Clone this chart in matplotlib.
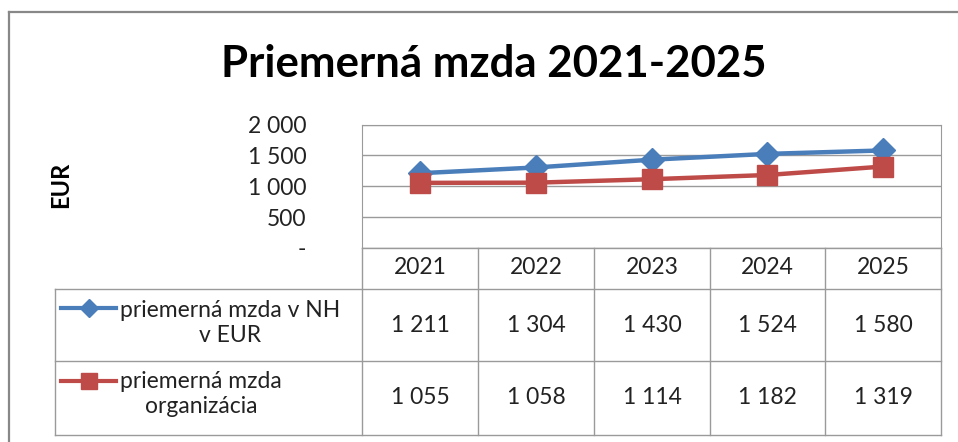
import matplotlib.pyplot as plt
from matplotlib.lines import Line2D

plt.rcParams['font.family'] = ['Lato', 'DejaVu Sans']

years = ["2021", "2022", "2023", "2024", "2025"]
mzda_nh = [1211, 1304, 1430, 1524, 1580]
mzda_org = [1055, 1058, 1114, 1182, 1319]
series_names = ["priemerná mzda v NH\nv EUR", "priemerná mzda\norganizácia"]
y_ticks = [0, 500, 1000, 1500, 2000]

blue = "#4A7EBB"
red = "#BE4B48"
grid_col = "#9A9A9A"
txt_col = "#222222"

W, H = 958, 442


def fx(x):
    return x / W


def fy(y):
    return 1 - y / H


def fmt(v):
    # thousands separated by a space, zero shown as a dash
    if v == 0:
        return "-"
    return f"{v:,}".replace(",", " ")


fig = plt.figure(figsize=(W / 100, H / 100), dpi=100)

# outer chart frame (top and left only visible)
fig.add_artist(Line2D([fx(8.5), fx(8.5)], [fy(12), fy(442)], color="#888888", lw=1.6))
fig.add_artist(Line2D([fx(8.5), fx(958)], [fy(12), fy(12)], color="#888888", lw=1.6))

fig.text(fx(494), fy(64), "Priemerná mzda 2021-2025", ha="center", va="center",
         fontsize=31.5, fontweight="bold")

# plot area
left, right, top, bottom = 362, 941, 124.5, 248
ax = fig.add_axes([fx(left), fy(bottom), fx(right) - fx(left), fy(top) - fy(bottom)])
x = range(len(years))
ax.plot(x, mzda_nh, color=blue, lw=3.2, marker="D", ms=12, zorder=3)
ax.plot(x, mzda_org, color=red, lw=3.2, marker="s", ms=14, zorder=3)
ax.set_xlim(-0.5, len(years) - 0.5)
ax.set_ylim(0, 2000)
ax.set_yticks(y_ticks)
ax.set_yticklabels([fmt(v) for v in y_ticks])
ax.set_xticks([])
ax.tick_params(axis="y", length=0, pad=40, labelsize=16.5, labelcolor=txt_col)
ax.grid(axis="y", color=grid_col, lw=1)
for s in ["top", "left", "right"]:
    ax.spines[s].set_color(grid_col)
ax.spines["bottom"].set_visible(False)
fig.text(fx(61), fy(185), "EUR", rotation=90, ha="center", va="center",
         fontsize=17, fontweight="bold")

# data table under the plot
cols = [362, 478, 594, 710, 825, 941]
row_y = [248, 289, 361, 435]
line_kw = dict(color=grid_col, lw=1)
fig.add_artist(Line2D([fx(cols[0]), fx(cols[-1])], [fy(row_y[0])] * 2, **line_kw))
for yy in row_y[1:]:
    fig.add_artist(Line2D([fx(55), fx(cols[-1])], [fy(yy)] * 2, **line_kw))
for cx in cols:
    fig.add_artist(Line2D([fx(cx)] * 2, [fy(row_y[0]), fy(row_y[-1])], **line_kw))
fig.add_artist(Line2D([fx(55)] * 2, [fy(row_y[1]), fy(row_y[-1])], **line_kw))

centers = [(cols[i] + cols[i + 1]) / 2 for i in range(len(years))]
for cx, yr in zip(centers, years):
    fig.text(fx(cx), fy(268), yr, ha="center", va="center", fontsize=16.5, color=txt_col)

rows = [(mzda_nh, blue, "D", 9, 323, 308, 325), (mzda_org, red, "s", 11, 394, 381, 398)]
for (vals, col, mk, ms, yc, ykey, yval), name in zip(rows, series_names):
    for cx, v in zip(centers, vals):
        fig.text(fx(cx), fy(yval), fmt(v), ha="center", va="center", fontsize=16.5,
                 color=txt_col)
    fig.add_artist(Line2D([fx(61), fx(116)], [fy(ykey)] * 2, color=col, lw=3))
    fig.add_artist(Line2D([fx(88.5)], [fy(ykey)], color=col, marker=mk, ms=ms, lw=0))
    fig.text(fx(120), fy(yc), name, ha="left", va="center", multialignment="center",
             fontsize=16.5, color=txt_col, linespacing=1.2)

fig.savefig("out.png", dpi=100)
